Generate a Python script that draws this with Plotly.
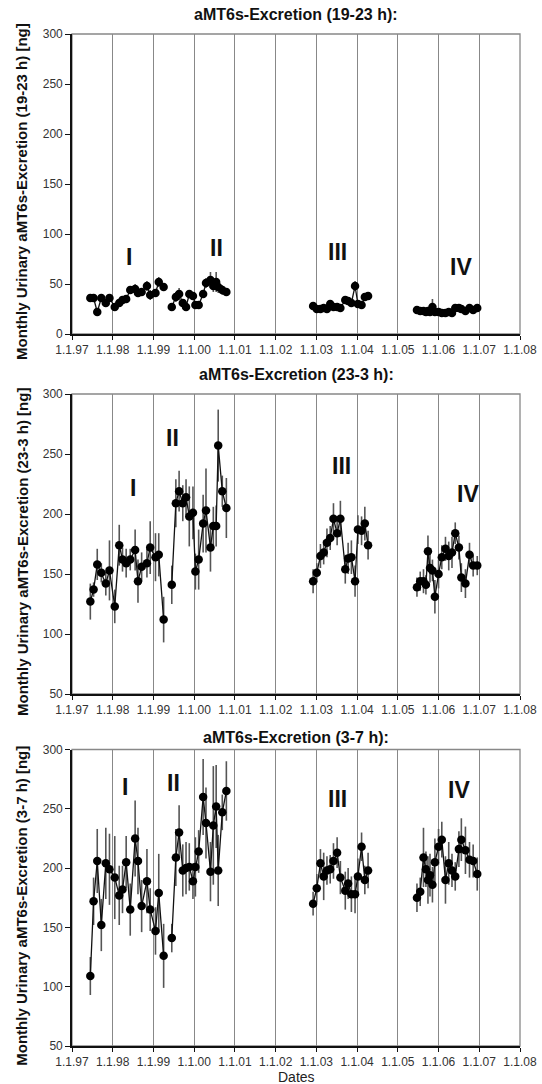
import plotly.graph_objects as go

# ---------------- data ----------------
years = [1997, 1998, 1999, 2000, 2001, 2002, 2003, 2004, 2005, 2006, 2007, 2008]
year_labels = ["1.1.97", "1.1.98", "1.1.99", "1.1.00", "1.1.01", "1.1.02",
               "1.1.03", "1.1.04", "1.1.05", "1.1.06", "1.1.07", "1.1.08"]

dates_I = [1997.45, 1997.53, 1997.62, 1997.72, 1997.83, 1997.92, 1998.05, 1998.16, 1998.24,
           1998.33, 1998.43, 1998.55, 1998.62, 1998.71, 1998.84, 1998.92, 1999.05, 1999.13, 1999.25]
dates_II = [1999.45, 1999.55, 1999.63, 1999.72, 1999.80, 1999.88, 1999.97, 2000.03, 2000.11,
            2000.22, 2000.29, 2000.40, 2000.47, 2000.54, 2000.59, 2000.69, 2000.79]
dates_III = [2002.92, 2003.01, 2003.10, 2003.18, 2003.26, 2003.34, 2003.42, 2003.51, 2003.59,
             2003.71, 2003.78, 2003.86, 2003.95, 2004.02, 2004.11, 2004.19, 2004.27]
dates_IV = [2005.47, 2005.55, 2005.63, 2005.69, 2005.74, 2005.79, 2005.85, 2005.91, 2006.00, 2006.08,
            2006.17, 2006.25, 2006.33, 2006.41, 2006.50, 2006.56, 2006.66, 2006.76, 2006.85, 2006.95]

# 19-23 h
p1_I = [36, 36, 22, 36, 31, 36, 27, 31, 34, 35, 44, 45, 41, 42, 48, 39, 41, 52, 47]
p1_II = [27, 37, 40, 31, 27, 40, 38, 29, 29, 40, 51, 54, 48, 52, 47, 44, 42]
p1_III = [28, 25, 25, 26, 25, 30, 27, 27, 26, 34, 33, 31, 48, 30, 29, 37, 38]
p1_IV = [24, 23, 23, 22, 23, 22, 27, 22, 22, 21, 21, 22, 21, 26, 26, 25, 23, 26, 24, 26]
e1_I = [4, 3, 4, 4, 4, 3, 4, 3, 4, 4, 4, 5, 4, 4, 5, 5, 4, 5, 4]
e1_II = [4, 5, 6, 4, 3, 4, 4, 4, 3, 4, 5, 8, 6, 10, 6, 5, 4]
e1_III = [3, 3, 3, 3, 3, 3, 3, 3, 3, 4, 4, 4, 5, 4, 4, 3, 3]
e1_IV = [3, 3, 3, 3, 3, 3, 8, 3, 3, 3, 3, 3, 3, 3, 3, 3, 3, 3, 3, 3]

# 23-3 h
p2_I = [127, 137, 158, 151, 142, 153, 123, 174, 162, 159, 162, 170, 144, 156, 159, 172, 164, 166, 112]
p2_II = [141, 209, 219, 209, 214, 198, 201, 152, 162, 192, 203, 172, 190, 190, 257, 219, 205]
p2_III = [144, 151, 165, 168, 176, 180, 196, 184, 196, 154, 163, 164, 144, 187, 186, 192, 174]
p2_IV = [139, 144, 144, 141, 169, 155, 153, 131, 150, 164, 171, 165, 168, 184, 172, 147, 142, 166, 157, 157]
e2_I = [15, 6, 13, 8, 10, 25, 14, 17, 10, 12, 9, 17, 18, 12, 12, 22, 20, 18, 19]
e2_II = [16, 20, 17, 15, 15, 25, 22, 15, 25, 24, 35, 20, 16, 17, 30, 13, 25]
e2_III = [10, 8, 10, 10, 12, 10, 13, 10, 15, 12, 13, 14, 13, 12, 12, 14, 12]
e2_IV = [8, 8, 10, 8, 13, 12, 9, 14, 12, 10, 10, 12, 13, 9, 10, 12, 12, 10, 9, 8]

# 3-7 h
p3_I = [109, 172, 206, 152, 204, 199, 192, 177, 182, 205, 165, 225, 206, 168, 189, 165, 147, 179, 126]
p3_II = [141, 209, 230, 198, 200, 201, 189, 201, 214, 260, 238, 197, 236, 252, 198, 247, 265]
p3_III = [170, 183, 204, 193, 198, 199, 206, 213, 192, 181, 187, 178, 178, 193, 218, 190, 198]
p3_IV = [175, 180, 209, 199, 190, 194, 186, 205, 218, 224, 190, 204, 198, 193, 216, 224, 215, 207, 206, 195]
e3_I = [16, 20, 27, 22, 30, 30, 35, 25, 20, 22, 22, 32, 28, 22, 27, 18, 20, 33, 27]
e3_II = [12, 24, 23, 22, 22, 20, 15, 25, 18, 32, 30, 25, 50, 35, 30, 15, 25]
e3_III = [10, 12, 12, 20, 12, 12, 15, 13, 14, 16, 13, 15, 16, 15, 12, 12, 15]
e3_IV = [12, 12, 25, 15, 20, 18, 15, 20, 15, 15, 20, 18, 14, 12, 15, 18, 20, 15, 14, 14]

titles = ["aMT6s-Excretion (19-23 h):", "aMT6s-Excretion (23-3 h):", "aMT6s-Excretion (3-7 h):"]
ytitles = ["Monthly Urinary aMT6s-Excretion (19-23 h) [ng]",
           "Monthly Urinary aMT6s-Excretion (23-3 h) [ng]",
           "Monthly Urinary aMT6s-Excretion (3-7 h) [ng]"]
numerals = ["I", "II", "III", "IV"]
# label anchor positions (date, value) per panel
num_pos = [
    [(1998.40, 77), (2000.56, 86), (2003.52, 82), (2006.55, 67)],
    [(1998.49, 222), (1999.47, 263), (2003.61, 240), (2006.72, 217)],
    [(1998.31, 268), (1999.49, 272), (2003.53, 258), (2006.49, 266)],
]

panels = [
    ([p1_I, p1_II, p1_III, p1_IV], [e1_I, e1_II, e1_III, e1_IV], [0, 300]),
    ([p2_I, p2_II, p2_III, p2_IV], [e2_I, e2_II, e2_III, e2_IV], [50, 300]),
    ([p3_I, p3_II, p3_III, p3_IV], [e3_I, e3_II, e3_III, e3_IV], [50, 300]),
]
group_dates = [dates_I, dates_II, dates_III, dates_IV]

# ---------------- layout geometry ----------------
W, H = 542, 1084
xdom = [72 / W, 520 / W]
ydoms = [
    [1 - 334 / H, 1 - 34 / H],
    [1 - 694 / H, 1 - 394 / H],
    [1 - 1046 / H, 1 - 749.5 / H],
]
title_y = [1 - 14 / H, 1 - 374 / H, 1 - 737 / H]

FONT = "Liberation Sans, Arial, sans-serif"

fig = go.Figure()
layout = dict(
    template="none",
    width=W, height=H,
    margin=dict(l=0, r=0, t=0, b=0, autoexpand=False),
    paper_bgcolor="white", plot_bgcolor="white",
    showlegend=False,
    font=dict(family=FONT, color="#222"),
)

annotations = []
shapes = []
for i, (vals, errs, yr) in enumerate(panels):
    k = "" if i == 0 else str(i + 1)
    xa, ya = "x" + k, "y" + k
    for g in range(4):
        fig.add_trace(go.Scatter(
            x=group_dates[g], y=vals[g], xaxis=xa, yaxis=ya,
            mode="lines+markers",
            line=dict(color="#111", width=1.3),
            marker=dict(color="black", size=8.5, symbol="circle", line=dict(width=0)),
            error_y=dict(type="data", array=errs[g], visible=True,
                         color="#555", thickness=1.6, width=0),
        ))
    layout["xaxis" + k] = dict(
        domain=xdom, anchor=ya, range=[1997, 2008], automargin=False,
        tickmode="array", tickvals=years, ticktext=year_labels,
        showgrid=True, gridcolor="#888888", gridwidth=1.3,
        showline=True, linecolor="#111", linewidth=1.6,
        ticks="outside", ticklen=4, tickcolor="#111", tickwidth=1.3,
        tickfont=dict(size=12, color="#333"), zeroline=False,
        fixedrange=True,
    )
    layout["yaxis" + k] = dict(
        domain=ydoms[i], anchor=xa, range=yr, automargin=False,
        tickmode="linear", tick0=0, dtick=50,
        showgrid=False, zeroline=False,
        showline=True, linecolor="#111", linewidth=1.6,
        ticks="outside", ticklen=5, tickcolor="#111", tickwidth=1.3,
        tickfont=dict(size=12, color="#333"),
        fixedrange=True,
    )
    shapes.append(dict(type="rect", xref=xa + " domain", yref=ya + " domain",
                       x0=0, x1=1, y0=0, y1=1, line=dict(color="#888888", width=1.3),
                       layer="below"))
    annotations.append(dict(text="<b>" + titles[i] + "</b>", xref="paper", yref="paper",
                            x=296 / W, y=title_y[i], showarrow=False,
                            font=dict(size=16, color="#111"), xanchor="center", yanchor="middle"))
    annotations.append(dict(text="<b>" + ytitles[i] + "</b>", xref="paper", yref=ya + " domain",
                            x=22 / W, y=0.5, yshift=-8, showarrow=False, textangle=-90,
                            font=dict(size=15, color="#111"), xanchor="center", yanchor="middle"))
    for g, (dx, dy) in enumerate(num_pos[i]):
        annotations.append(dict(text="<b>" + numerals[g] + "</b>", xref=xa, yref=ya,
                                x=dx, y=dy, showarrow=False,
                                font=dict(size=23, color="#111")))

annotations.append(dict(text="Dates", xref="paper", yref="paper", x=296 / W, y=1 - 1077 / H,
                        showarrow=False, font=dict(size=14, color="#222"),
                        xanchor="center", yanchor="middle"))

layout["annotations"] = annotations
layout["shapes"] = shapes
fig.update_layout(**layout)
fig.write_html("out.html")
